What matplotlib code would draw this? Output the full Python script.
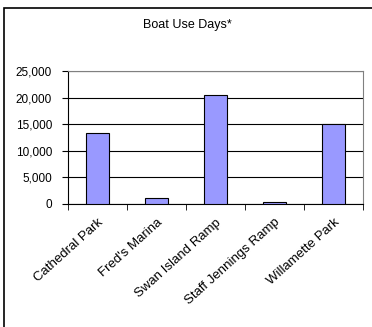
import matplotlib
matplotlib.use("Agg")
import matplotlib.pyplot as plt
from matplotlib.patches import Rectangle
from matplotlib.ticker import FuncFormatter, FixedLocator
from matplotlib.transforms import ScaledTranslation
import numpy as np

plt.rcParams['font.family'] = ['Liberation Sans', 'DejaVu Sans']

categories = ["Cathedral Park", "Fred's Marina", "Swan Island Ramp",
              "Staff Jennings Ramp", "Willamette Park"]
boat_use_days = [13300, 1100, 20500, 400, 15000]
y_ticks = [0, 5000, 10000, 15000, 20000, 25000]

W, H = 372, 327
fig = plt.figure(figsize=(W / 100, H / 100), dpi=100)
fig.patch.set_facecolor("white")

# outer chart frame
fig.patches.append(Rectangle((4 / W, -0.1), 1.2, 1 - 8 / H + 0.1,
                             transform=fig.transFigure, fill=False,
                             edgecolor="black", linewidth=1.2))

ax = fig.add_axes([68 / W, 1 - 204 / H, (363 - 68) / W, (204 - 71) / H])
x = np.arange(len(categories))
ax.bar(x, boat_use_days, width=0.4, color="#9999FF",
       edgecolor="#000000", linewidth=0.8, zorder=3)

ax.set_xlim(-0.5, len(categories) - 0.5)
ax.set_ylim(0, 25000)
ax.set_yticks(y_ticks)
ax.yaxis.set_major_formatter(FuncFormatter(lambda v, p: f"{int(v):,}"))
ax.grid(axis="y", color="black", linewidth=0.8, zorder=1)

ax.set_xticks(x)
ax.set_xticklabels(categories, rotation=42, ha="right", va="top",
                   rotation_mode="anchor", fontsize=9.5)
shift = ScaledTranslation(-5 / 100, 0, fig.dpi_scale_trans)
for lbl in ax.get_xticklabels():
    lbl.set_transform(lbl.get_transform() + shift)
ax.tick_params(axis="x", which="major", length=0, pad=9)
ax.xaxis.set_minor_locator(FixedLocator(np.arange(len(categories) + 1) - 0.5))
ax.tick_params(axis="x", which="minor", length=4, direction="out", color="black")
ax.tick_params(axis="y", length=4, direction="out", labelsize=8.5, pad=7.5)

for side in ("top", "right"):
    ax.spines[side].set_color("#808080")
    ax.spines[side].set_linewidth(0.8)
ax.spines["left"].set_color("black")
ax.spines["bottom"].set_color("black")

fig.text(187 / W, 1 - 25 / H, "Boat Use Days*", ha="center", va="center",
         fontsize=9)

fig.savefig("out.png", dpi=100)
